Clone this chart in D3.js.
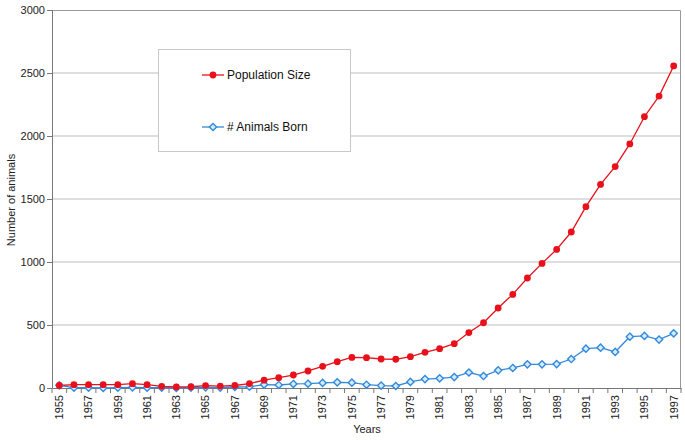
<!DOCTYPE html>
<html><head><meta charset="utf-8">
<script src="https://cdn.jsdelivr.net/npm/d3@7"></script>
<style>body{margin:0;background:#fff}svg{display:block;font-family:"Liberation Sans",Arial,sans-serif}</style>
</head><body><svg id="c" width="685" height="442"></svg>
<script>
const years = d3.range(1955, 1998).map(String);
const populationSize = [20,26,26,26,26,34,26,13,8,10,19,15,20,35,62,82,103,135,172,209,243,241,230,228,249,283,312,352,440,518,635,743,873,989,1100,1238,1439,1616,1757,1937,2153,2317,2556];
const animalsBorn = [21,3,3,0,3,5,3,3,0,3,5,3,8,10,27,24,32,34,40,45,42,26,19,16,48,71,77,87,123,95,140,159,188,188,190,230,312,320,286,407,413,384,434];
const yTicks = [0,500,1000,1500,2000,2500,3000];
const xLabels = years.filter((d,i)=>i%2===0);

const svg = d3.select("#c");
const m = {l:52, r:681, t:10, b:388};
const x = d3.scaleBand().domain(years).range([m.l, m.r]);
const y = d3.scaleLinear().domain([0,3000]).range([m.b, m.t]);

svg.append("g").selectAll("line").data(yTicks.slice(1,-1)).join("line")
  .attr("x1", m.l).attr("x2", m.r).attr("y1", d=>y(d)).attr("y2", d=>y(d))
  .attr("stroke", "#bdbdbd").attr("stroke-width", 1);

svg.append("path").attr("d", `M${m.l},${m.t+0.5}H${m.r-0.5}V${m.b}`).attr("fill","none").attr("stroke","#9a9a9a");

const ya = svg.append("g").attr("transform", `translate(${m.l},0)`)
  .call(d3.axisLeft(y).tickValues(yTicks).tickSize(5).tickSizeOuter(0).tickFormat(d3.format("d")));
ya.select(".domain").attr("stroke","#777");
ya.selectAll(".tick line").attr("stroke","#777");
ya.selectAll("text").attr("font-size", 11).attr("fill","#222").attr("x",-7);

const xa = svg.append("g").attr("transform", `translate(0,${m.b})`)
  .call(d3.axisBottom(x).tickValues(xLabels).tickSize(0).tickSizeOuter(0));
xa.select(".domain").attr("stroke","#777");
xa.selectAll("text").attr("font-size", 11).attr("fill","#222")
  .attr("transform","rotate(-90)").attr("text-anchor","end").attr("dy","0.35em").attr("x",-7).attr("y",0);
svg.append("g").selectAll("line").data(d3.range(years.length+1)).join("line")
  .attr("x1", i=>m.l + i*x.step()).attr("x2", i=>m.l + i*x.step())
  .attr("y1", m.b).attr("y2", m.b+5).attr("stroke","#777");

const cx = d => x(d) + x.bandwidth()/2;
const line = d3.line();
const red = "#e8101a", blue = "#3389dc";

svg.append("path").attr("d", line(years.map((d,i)=>[cx(d), y(animalsBorn[i])])))
  .attr("fill","none").attr("stroke",blue).attr("stroke-width",1.3);
svg.append("path").attr("d", line(years.map((d,i)=>[cx(d), y(populationSize[i])])))
  .attr("fill","none").attr("stroke",red).attr("stroke-width",1.3);

const diamond = (cxv, cyv, s) => `M${cxv},${cyv-s}L${cxv+s},${cyv}L${cxv},${cyv+s}L${cxv-s},${cyv}Z`;
svg.append("g").selectAll("path").data(years).join("path")
  .attr("d", (d,i)=>diamond(cx(d), y(animalsBorn[i]), 3.6))
  .attr("fill","#d4ecff").attr("stroke",blue).attr("stroke-width",1.4);
svg.append("g").selectAll("circle").data(years).join("circle")
  .attr("cx", d=>cx(d)).attr("cy", (d,i)=>y(populationSize[i])).attr("r",3.4).attr("fill",red);

const lg = svg.append("g");
lg.append("rect").attr("x",158.5).attr("y",49.5).attr("width",192).attr("height",102)
  .attr("fill","#fff").attr("stroke","#c8c8c8");
const items = [{t:"Population Size", c:red, k:"c", yy:75},{t:"# Animals Born", c:blue, k:"d", yy:127}];
items.forEach(it=>{
  lg.append("line").attr("x1",202).attr("x2",224).attr("y1",it.yy).attr("y2",it.yy).attr("stroke",it.c).attr("stroke-width",1.3);
  if(it.k==="c") lg.append("circle").attr("cx",213).attr("cy",it.yy).attr("r",3.4).attr("fill",it.c);
  else lg.append("path").attr("d",diamond(213,it.yy,3.6)).attr("fill","#d4ecff").attr("stroke",it.c).attr("stroke-width",1.4);
  lg.append("text").attr("x",227).attr("y",it.yy).attr("dy","0.35em").attr("font-size",12).attr("fill","#111").text(it.t);
});

svg.append("text").attr("transform","translate(15,200) rotate(-90)").attr("text-anchor","middle")
  .attr("font-size",11).attr("fill","#222").text("Number of animals");
svg.append("text").attr("x",367).attr("y",433).attr("text-anchor","middle")
  .attr("font-size",11).attr("fill","#222").text("Years");
</script></body></html>
